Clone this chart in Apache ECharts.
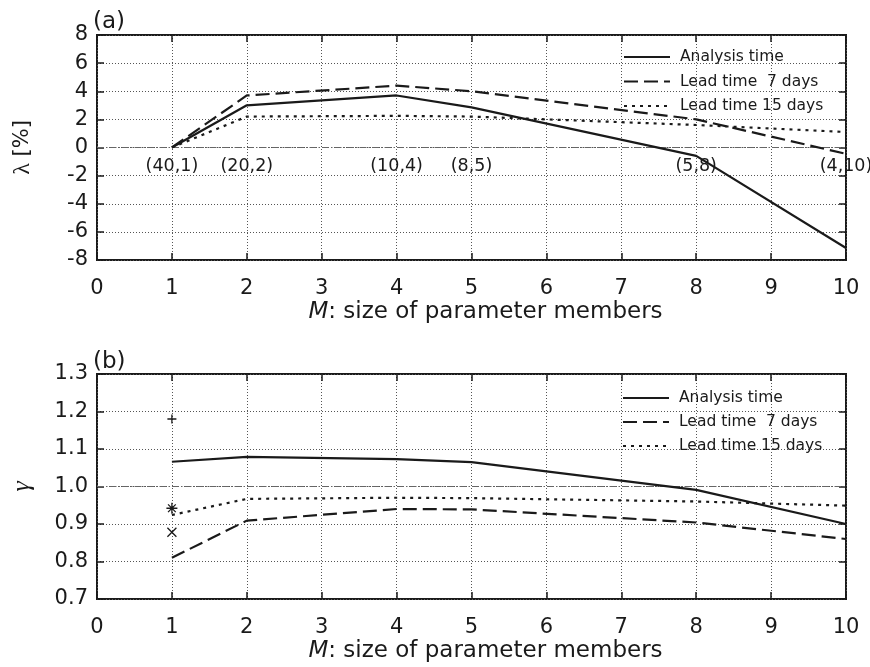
<!DOCTYPE html>
<html>
<head>
<meta charset="utf-8">
<title>Parameter members</title>
<script src="https://cdn.jsdelivr.net/npm/echarts@6/dist/echarts.min.js"></script>
<style>
  html, body { margin: 0; padding: 0; background: #fff; }
  #chart { width: 870px; height: 667px; }
</style>
</head>
<body>
<div id="chart"></div>
<script>
// M: size of parameter members, with the (ensemble, parameter) split shown under panel (a)
const M = [1, 2, 4, 5, 8, 10];
const memberPairs = ['(40,1)', '(20,2)', '(10,4)', '(8,5)', '(5,8)', '(4,10)'];

// (a) lambda [%]
const lambdaAnalysis = [0, 3.0, 3.7, 2.85, -0.6, -7.15];
const lambda7 = [0, 3.7, 4.4, 4.0, 2.0, -0.45];
const lambda15 = [0, 2.2, 2.25, 2.2, 1.6, 1.1];

// (b) gamma
const gammaAnalysis = [1.066, 1.079, 1.073, 1.065, 0.991, 0.90];
const gamma7 = [0.81, 0.909, 0.94, 0.939, 0.904, 0.86];
const gamma15 = [0.924, 0.967, 0.97, 0.969, 0.96, 0.949];

// single-value results at M = 1
const singleAnalysis = 1.18;
const single7 = 0.878;
const single15 = 0.942;

const seriesNames = ['Analysis time', 'Lead time  7 days', 'Lead time 15 days'];
const xTicks = { min: 0, max: 10, interval: 1 };
const lambdaTicks = { min: -8, max: 8, interval: 2 };
const gammaTicks = { min: 0.7, max: 1.3, interval: 0.1 };

const INK = '#1a1a1a';
const GRIDC = '#555';
const SANS = 'DejaVu Sans';
const pairs = (xs, ys) => xs.map((x, i) => [x, ys[i]]);
const dashStyles = ['solid', [14, 6], [3, 5]];

function tickAxisX(gridIndex, top) {
  return {
    type: 'value', gridIndex: gridIndex, position: top ? 'top' : 'bottom',
    min: xTicks.min, max: xTicks.max, interval: xTicks.interval,
    axisLine: { show: false, onZero: false },
    axisTick: { show: true, inside: true, length: 7, lineStyle: { color: INK, width: 1.5 } },
    axisLabel: top ? { show: false } : {
      show: true, margin: 18, color: INK, fontFamily: SANS, fontSize: 21
    },
    splitLine: top ? { show: false } : { show: true, lineStyle: { color: GRIDC, width: 1, type: [1, 2] } },
    name: top ? '' : '{i|M}: size of parameter members',
    nameLocation: 'middle', nameGap: 41,
    nameTextStyle: {
      color: INK, fontFamily: SANS, fontSize: 23, padding: [0, 0, 0, 28],
      rich: { i: { fontStyle: 'italic', fontFamily: SANS, fontSize: 23, color: INK } }
    }
  };
}

function tickAxisY(gridIndex, right, ticks, name, fmt) {
  return {
    type: 'value', gridIndex: gridIndex, position: right ? 'right' : 'left',
    min: ticks.min, max: ticks.max, interval: ticks.interval,
    axisLine: { show: false, onZero: false },
    axisTick: { show: true, inside: true, length: 7, lineStyle: { color: INK, width: 1.5 } },
    axisLabel: right ? { show: false } : {
      show: true, margin: 9, color: INK, fontFamily: SANS, fontSize: 21, formatter: fmt
    },
    splitLine: right ? { show: false } : { show: true, lineStyle: { color: GRIDC, width: 1, type: [1, 2] } },
    name: right ? '' : name.text,
    nameLocation: 'middle', nameGap: name ? name.gap : 0,
    nameTextStyle: name ? name.style : {}
  };
}

function lineSeries(k, ys, axisIdx, refValue) {
  const s = {
    name: seriesNames[k], type: 'line',
    xAxisIndex: axisIdx, yAxisIndex: axisIdx,
    data: pairs(M, ys), symbol: 'none', showSymbol: false,
    lineStyle: { color: INK, width: 2.2, type: dashStyles[k] },
    itemStyle: { color: INK }, z: 5
  };
  if (refValue !== undefined) {
    s.markLine = {
      silent: true, symbol: 'none', label: { show: false },
      lineStyle: { color: '#666', width: 1, type: [7, 2, 1.5, 2] },
      data: [{ yAxis: refValue }]
    };
  }
  return s;
}

function markerSeries(name, value, path, size) {
  return {
    name: name, type: 'scatter', xAxisIndex: 2, yAxisIndex: 2,
    data: [[M[0], value]], symbol: path, symbolSize: size,
    itemStyle: { color: 'none', borderColor: INK, borderWidth: 1.3, opacity: 1 }, z: 6
  };
}

const chart = echarts.init(document.getElementById('chart'), null, { renderer: 'canvas' });

const legendCommon = {
  orient: 'vertical', padding: 0, itemWidth: 46, itemHeight: 14,
  selectedMode: false, data: seriesNames,
  itemStyle: { opacity: 0 },
  textStyle: { color: INK, fontFamily: SANS, fontSize: 15.5, padding: [0, 0, 0, 5] }
};

chart.setOption({
  animation: false,
  backgroundColor: '#fff',
  textStyle: { fontFamily: SANS },
  grid: [
    { left: 97, top: 35, width: 749, height: 225, show: true, borderColor: INK, borderWidth: 2, backgroundColor: 'transparent' },
    { left: 97, top: 374, width: 749, height: 225, show: true, borderColor: INK, borderWidth: 2, backgroundColor: 'transparent' }
  ],
  legend: [
    Object.assign({ left: 623, top: 49, itemGap: 8.5 }, legendCommon),
    Object.assign({ left: 622, top: 390, itemGap: 8 }, legendCommon)
  ],
  xAxis: [tickAxisX(0, false), tickAxisX(0, true), tickAxisX(1, false), tickAxisX(1, true)],
  yAxis: [
    tickAxisY(0, false, lambdaTicks, {
      text: '{l|λ} [%]', gap: 62,
      style: { color: INK, fontFamily: SANS, fontSize: 21,
        rich: { l: { fontFamily: 'Liberation Serif', fontSize: 24, color: INK } } }
    }, v => String(v)),
    tickAxisY(0, true, lambdaTicks, null),
    tickAxisY(1, false, gammaTicks, {
      text: 'γ', gap: 62,
      style: { color: INK, fontFamily: 'Liberation Serif', fontStyle: 'italic', fontSize: 26 }
    }, v => v.toFixed(1)),
    tickAxisY(1, true, gammaTicks, null)
  ],
  series: [
    lineSeries(0, lambdaAnalysis, 0, 0),
    lineSeries(1, lambda7, 0),
    lineSeries(2, lambda15, 0),
    {
      name: 'member pairs', type: 'scatter', xAxisIndex: 0, yAxisIndex: 0,
      data: M.map((m, i) => ({ value: [m, 0], label: { formatter: memberPairs[i] } })),
      symbolSize: 0, silent: true, z: 7,
      itemStyle: { opacity: 1 },
      label: { show: true, position: 'bottom', distance: 10, color: INK, opacity: 1, fontFamily: SANS, fontSize: 17.5 }
    },
    lineSeries(0, gammaAnalysis, 2, 1.0),
    lineSeries(1, gamma7, 2),
    lineSeries(2, gamma15, 2),
    markerSeries('single analysis', singleAnalysis, 'path://M5,0L5,10M0,5L10,5', 9),
    markerSeries('single 7 days', single7, 'path://M0,0L10,10M10,0L0,10', 9),
    markerSeries('single 15 days', single15, 'path://M5,0L5,10M0,5L10,5M1.5,1.5L8.5,8.5M8.5,1.5L1.5,8.5', 11)
  ],
  graphic: [
    { type: 'text', left: 93, top: 11, style: { text: '(a)', fill: INK, font: '23px "DejaVu Sans"' } },
    { type: 'text', left: 93, top: 351, style: { text: '(b)', fill: INK, font: '23px "DejaVu Sans"' } }
  ]
});
</script>
</body>
</html>
